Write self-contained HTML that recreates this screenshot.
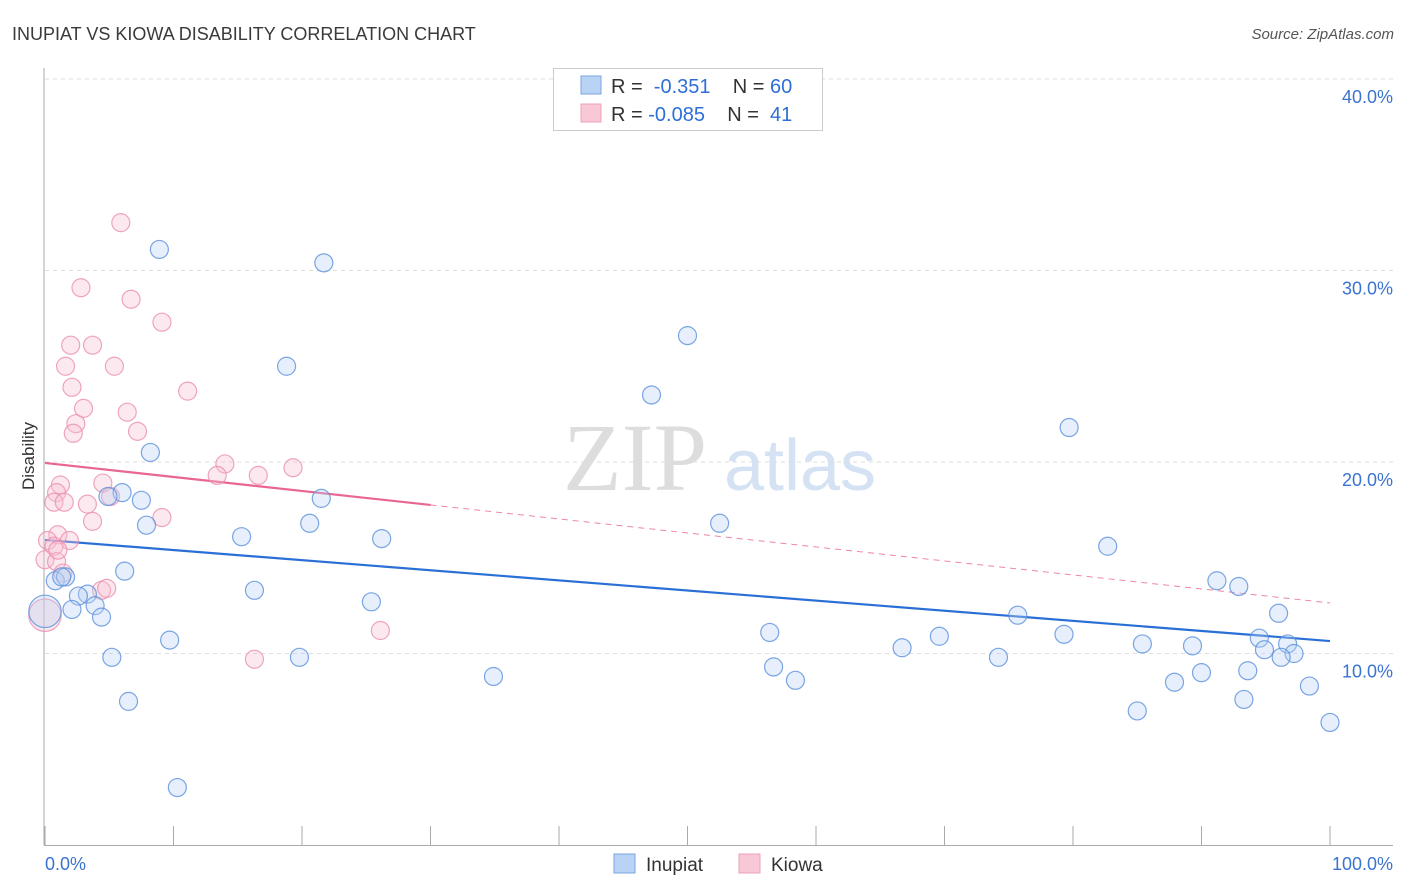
<!DOCTYPE html>
<html><head><meta charset="utf-8"><style>
body{margin:0;background:#fff;font-family:"Liberation Sans",sans-serif}
svg{display:block}
</style></head><body>
<svg id="chart" width="1406" height="892" viewBox="0 0 1406 892" xmlns="http://www.w3.org/2000/svg">
<text x="12" y="40" font-size="18" fill="#3a3a3a">INUPIAT VS KIOWA DISABILITY CORRELATION CHART</text>
<text x="1394" y="39" font-size="15" fill="#555" font-style="italic" text-anchor="end">Source: ZipAtlas.com</text>
<g>
<text x="635" y="490" font-size="96" fill="#dddddd" font-family="Liberation Serif,serif" text-anchor="middle">ZIP</text>
<text x="800" y="490" font-size="72" fill="#d4e2f4" text-anchor="middle">atlas</text>
</g>
<g id="grid"></g>
<g id="axes"></g>
<g id="trends"></g>
<g id="points"></g>
<text transform="translate(34,456) rotate(-90)" font-size="17" fill="#333" text-anchor="middle">Disability</text>
<g>
<rect x="553.5" y="68.5" width="269" height="62" fill="#fff" stroke="#ccc"/>
<rect x="581" y="76" width="20" height="18" fill="#b9d3f5" stroke="#7aa6e0"/>
<rect x="581" y="104" width="20" height="18" fill="#f9c8d6" stroke="#eea0b8"/>
<text x="611" y="93" font-size="20" fill="#333">R = <tspan fill="#2d6fd6">&#160;-0.351</tspan>&#160;&#160;&#160; N = <tspan fill="#2d6fd6">60</tspan></text>
<text x="611" y="121" font-size="20" fill="#333">R = <tspan fill="#2d6fd6">-0.085</tspan>&#160;&#160;&#160; N = <tspan fill="#2d6fd6">&#160;41</tspan></text>
</g>
<g>
<rect x="614" y="854" width="21" height="19" fill="#b9d3f5" stroke="#7aa6e0"/>
<text x="646" y="871" font-size="19" fill="#333">Inupiat</text>
<rect x="739" y="854" width="21" height="19" fill="#f9c8d6" stroke="#eea0b8"/>
<text x="771" y="871" font-size="19" fill="#333">Kiowa</text>
</g>
</svg>
<script>
const yTicks=[10,20,30,40];
const yTickLabels=["10.0%","20.0%","30.0%","40.0%"];
const xTicks=[0,10,20,30,40,50,60,70,80,90,100];
const inupiatX=[8.9,21.7,50.0,18.8,47.2,79.7,8.2,6.0,4.9,7.5,21.5,7.9,20.6,52.5,15.3,26.2,82.7,6.2,0.8,1.6,1.3,91.2,92.9,16.3,3.3,2.6,25.4,3.9,2.1,96.0,0,4.4,75.7,56.4,69.6,79.3,9.7,94.5,96.7,85.4,89.3,66.7,94.9,97.2,5.2,19.8,74.2,96.2,56.7,90.0,93.6,34.9,58.4,87.9,98.4,6.5,93.3,85.0,100,10.3];
const inupiatY=[31.1,30.4,26.6,25.0,23.5,21.8,20.5,18.4,18.2,18.0,18.1,16.7,16.8,16.8,16.1,16.0,15.6,14.3,13.8,14.0,14.0,13.8,13.5,13.3,13.1,13.0,12.7,12.5,12.3,12.1,12.2,11.9,12.0,11.1,10.9,11.0,10.7,10.8,10.5,10.5,10.4,10.3,10.2,10.0,9.8,9.8,9.8,9.8,9.3,9.0,9.1,8.8,8.6,8.5,8.3,7.5,7.6,7.0,6.4,3.0];
const inupiatSize=[1,1,1,1,1,1,1,1,1,1,1,1,1,1,1,1,1,1,1,1,1,1,1,1,1,1,1,1,1,1,1.8,1,1,1,1,1,1,1,1,1,1,1,1,1,1,1,1,1,1,1,1,1,1,1,1,1,1,1,1,1];
const kiowaX=[5.9,2.8,6.7,9.1,2.0,3.7,1.6,5.4,2.1,11.1,3.0,6.4,2.4,7.2,2.2,14.0,13.4,16.6,19.3,1.2,4.5,0.9,0.7,1.5,3.3,5.1,9.1,3.7,1.0,1.9,0.2,0.7,0,0.9,1.4,4.4,4.8,0,26.1,16.3,1.0];
const kiowaY=[32.5,29.1,28.5,27.3,26.1,26.1,25.0,25.0,23.9,23.7,22.8,22.6,22.0,21.6,21.5,19.9,19.3,19.3,19.7,18.8,18.9,18.4,17.9,17.9,17.8,18.2,17.1,16.9,16.2,15.9,15.9,15.6,14.9,14.8,14.2,13.3,13.4,12.0,11.2,9.7,15.4];
const kiowaSize=[1,1,1,1,1,1,1,1,1,1,1,1,1,1,1,1,1,1,1,1,1,1,1,1,1,1,1,1,1,1,1,1,1,1,1,1,1,1.8,1,1,1];
const inupiatTrend=[15.93,10.65];
const kiowaTrend=[19.95,12.64];
const kiowaSolidEnd=30;

const X0=45,X1=1330,Y0=845,PX_PER=19.15;
const sx=v=>X0+(X1-X0)*v/100;
const sy=v=>Y0-v*PX_PER;
const NS="http://www.w3.org/2000/svg";
function mk(tag,attrs,parent){const e=document.createElementNS(NS,tag);for(const k in attrs)e.setAttribute(k,attrs[k]);parent.appendChild(e);return e;}
const grid=document.getElementById('grid'),axes=document.getElementById('axes'),trends=document.getElementById('trends'),pts=document.getElementById('points');
yTicks.forEach((t,i)=>{
  const l=mk('line',{x1:45,x2:1393,y1:sy(t),y2:sy(t),stroke:'#ddd','stroke-dasharray':'4,4'},grid);
  
  
  const tx=mk('text',{x:1393,y:sy(t)+24,'font-size':18,fill:'#3b73d1','text-anchor':'end'},axes);
  tx.textContent=yTickLabels[i];
  
  
});
const ya=mk('line',{x1:44,x2:44,y1:68,y2:845,stroke:'#aaa'},axes);


const xa=mk('line',{x1:44,x2:1393,y1:845.5,y2:845.5,stroke:'#aaa'},axes);


xTicks.forEach(t=>{
  const l=mk('line',{x1:sx(t),x2:sx(t),y1:826,y2:845,stroke:'#aaa'},axes);
  
  
});
const xl0=mk('text',{x:45,y:870,'font-size':18,fill:'#3b73d1'},axes);xl0.textContent='0.0%';


const xl1=mk('text',{x:1393,y:870,'font-size':18,fill:'#3b73d1','text-anchor':'end'},axes);xl1.textContent='100.0%';



function drawPts(xs,ys,sz,fill,stroke,name){
  xs.forEach((x,i)=>{
    const c=mk('circle',{cx:sx(x),cy:sy(ys[i]),r:9*sz[i],fill:fill,'fill-opacity':0.35,stroke:stroke,'stroke-width':1.2,'stroke-opacity':0.8},pts);
    
    
  });
}
drawPts(kiowaX,kiowaY,kiowaSize,'#f7bfd0','#eb8fae','kiowa-point');
drawPts(inupiatX,inupiatY,inupiatSize,'#b6d0f3','#5a90dc','inupiat-point');

const kv=x=>kiowaTrend[0]+(kiowaTrend[1]-kiowaTrend[0])*x/100;
const t1=mk('line',{x1:sx(0),y1:sy(inupiatTrend[0]),x2:sx(100),y2:sy(inupiatTrend[1]),stroke:'#2a6fd6','stroke-width':2.2},trends);


const t2=mk('line',{x1:sx(0),y1:sy(kv(0)),x2:sx(kiowaSolidEnd),y2:sy(kv(kiowaSolidEnd)),stroke:'#e8668f','stroke-width':2.2},trends);


const t3=mk('line',{x1:sx(kiowaSolidEnd),y1:sy(kv(kiowaSolidEnd)),x2:sx(100),y2:sy(kv(100)),stroke:'#e8668f','stroke-width':1,'stroke-dasharray':'6,5','stroke-opacity':0.8},trends);


</script>
</body></html>
